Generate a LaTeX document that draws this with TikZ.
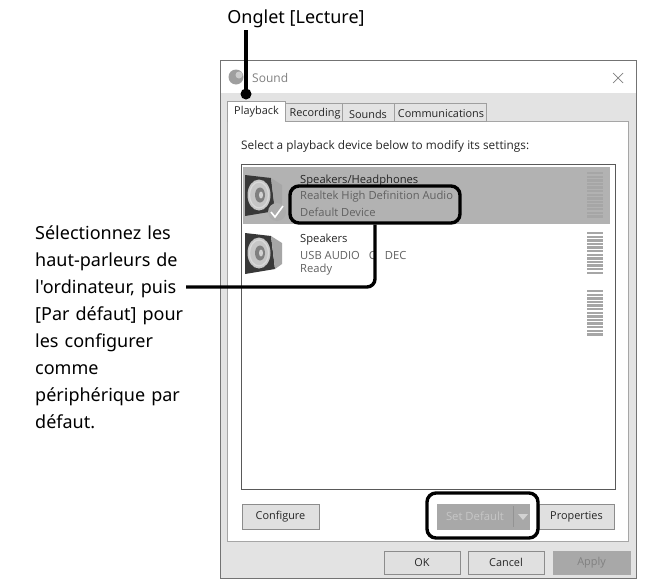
\documentclass[tikz,border=0pt]{standalone}
\usepackage{fontspec}
\setmainfont{Noto Sans}
\newfontfamily\notefont{Noto Sans}
\newfontfamily\uifont{Open Sans}
\usetikzlibrary{calc}
\definecolor{winedge}{gray}{0.45}
\definecolor{strip}{gray}{0.89}
\definecolor{rowsel}{gray}{0.70}
\definecolor{btnface}{gray}{0.88}
\definecolor{btnedge}{gray}{0.55}
\definecolor{btndis}{gray}{0.66}
\definecolor{subtext}{gray}{0.38}
\tikzset{
  x=1pt,y=-1pt,
  callout/.style={font=\notefont\fontsize{18}{22}\selectfont,text=black,inner sep=0pt},
  ui/.style={font=\uifont\fontsize{10.9}{13}\selectfont,text=black!85,inner sep=0pt},
  uileft/.style={ui,anchor=west},
  btn/.style={draw=btnedge,fill=btnface,line width=.8pt,minimum height=25pt,inner sep=0pt,font=\uifont\fontsize{10.9}{13}\selectfont,text=black!85},
  tabbox/.style={draw=gray!75,fill=strip,line width=.7pt},
  markbox/.style={draw=black,line width=3.4pt,rounded corners=9pt,inner sep=0pt},
  leader/.style={draw=black,line width=3.4pt},
}
\newcommand{\speakerat}[2]{%
  \fill[black!78] (#1,#2) -- (#1+26,#2+3) -- (#1+30,#2+36) -- (#1,#2+41) -- cycle;
  \fill[black!35] (#1+26,#2+3) -- (#1+37,#2+10) -- (#1+37,#2+31) -- (#1+30,#2+36) -- cycle;
  \fill[gray!45] (#1+14,#2+20) ellipse (11.5 and 15.5);
  \draw[white!85!black,line width=1.2pt] (#1+14,#2+20) ellipse (9.5 and 13);
  \fill[black!50] (#1+15,#2+20) ellipse (5 and 7.5);
  \fill[gray!35] (#1+16,#2+20) ellipse (2 and 3.5);
}
\newcommand{\meterat}[3]{%
  \foreach \mi in {0,...,#3}{\fill[gray!70] (#1,#2+\mi*3.6) rectangle (#1+16,#2+\mi*3.6+2.3);}
}
\begin{document}
\begin{tikzpicture}
\useasboundingbox (0,0) rectangle (645,581);
% window
\draw[winedge,fill=white,line width=.8pt] (220.5,60.5) -- (636,60.5) -- (636,578) -- (220.5,578) -- cycle;
\fill[strip] (221,93) rectangle (635.5,577.5);
\fill[white] (227,121) rectangle (628,541);
\draw[gray!70,line width=.6pt] (227,121) rectangle (628,541);
% title bar
\fill[gray!75] (236,77) circle (7.5);
\fill[gray!40] (239,75) circle (3.5);
\node[ui,anchor=west,text=gray] (title) at (252,78) {\fontsize{12}{14}\selectfont Sound};
\draw[gray,line width=.7pt] (613,73) -- (623,83) (613,83) -- (623,73);
% tabs
\fill[tabbox] (285,103) rectangle (342,121);
\fill[tabbox] (342,103) rectangle (394,121);
\fill[tabbox] (394,103) rectangle (486,121);
\draw[gray!75,fill=white,line width=.7pt] (227,122) -- (227,101) -- (285,101) -- (285,122);
\node[ui] (tabplay) at (256.5,112) {Playback};
\node[ui] (tabrec) at (315,114) {Recording};
\node[ui] (tabsnd) at (368,114) {Sounds};
\node[ui] (tabcom) at (441,114) {Communications};
\node[uileft,font=\uifont\fontsize{11.8}{14}\selectfont] (hint) at (241,146) {Select a playback device below to modify its settings:};
% list
\draw[black!65,fill=white,line width=.8pt] (241.5,164) rectangle (615,489);
\fill[rowsel] (243,167) rectangle (610,224);
\speakerat{245}{175}
\speakerat{245}{233}
\fill[gray!65] (277,212) circle (9);
\draw[white,line width=1.6pt] (271,212) -- (275,217) -- (283,206);
\node[uileft,font=\uifont\fontsize{11.2}{13}\selectfont] (dev1) at (300,181) {Speakers/Headphones};
\node[uileft,text=subtext,font=\uifont\fontsize{11.2}{13}\selectfont] (dev1a) at (300,197) {Realtek High Definition Audio};
\node[uileft,text=subtext,font=\uifont\fontsize{11.2}{13}\selectfont] (dev1b) at (300,212) {Default Device};
\node[uileft,font=\uifont\fontsize{11.2}{13}\selectfont] (dev2) at (300,240) {Speakers};
\node[uileft,text=subtext,font=\uifont\fontsize{11.2}{13}\selectfont] (dev2a) at (300,255) {USB AUDIO\hspace{9pt}C\hspace{9pt}DEC};
\node[uileft,text=subtext,font=\uifont\fontsize{11.2}{13}\selectfont] (dev2b) at (300,270) {Ready};
\meterat{587}{172}{12}
\meterat{587}{232}{11}
\meterat{587}{290}{12}
% buttons
\node[btn,minimum width=77pt] (configure) at (280.5,516.5) {Configure};
\node[btn,draw=btndis,fill=btndis,minimum width=92pt,text=gray!45,font=\uifont\fontsize{11.3}{13}\selectfont] (setdefault) at (483,516.5) {\hspace*{-16pt}Set Default};
\draw[gray!85,line width=.8pt] (513,506) -- (513,527);
\fill[gray!35] (518,514) -- (528,514) -- (523,520) -- cycle;
\node[btn,minimum width=75pt] (properties) at (576.5,516.5) {Properties};
\node[btn,minimum width=76pt,minimum height=23pt] (ok) at (422,562.5) {OK};
\node[btn,minimum width=76pt,minimum height=23pt] (cancel) at (506,562.5) {Cancel};
\node[btn,draw=btndis,fill=btndis,minimum width=77pt,minimum height=23pt,text=black!50] (apply) at (591.5,562.5) {Apply};
% callouts
\node[callout] (lecture) at (296,18.5) {Onglet [Lecture]};
\node[callout,anchor=north west,align=left,text width=150pt,font=\notefont\fontsize{18}{26.9}\selectfont] (selnote) at (35,226)
 {Sélectionnez les\\haut-parleurs de\\l'ordinateur, puis\\{[Par défaut]} pour\\les configurer\\comme\\périphérique par\\défaut.};
\node[markbox,minimum width=170pt,minimum height=37pt] (box1) at (375,204.5) {};
\node[markbox,minimum width=111pt,minimum height=45pt] (box2) at (482.5,515.5) {};
\coordinate (tabpt) at (246,94);
\coordinate (linetop) at (246,30);
\coordinate (linefree) at (186,287);
\fill[black] (tabpt) circle (5.5);
\draw[leader] (linetop) -- (tabpt);
\draw[leader,rounded corners=8pt] (box1.south) -- (box1.south |- linefree) -- (linefree);
\end{tikzpicture}
\end{document}
